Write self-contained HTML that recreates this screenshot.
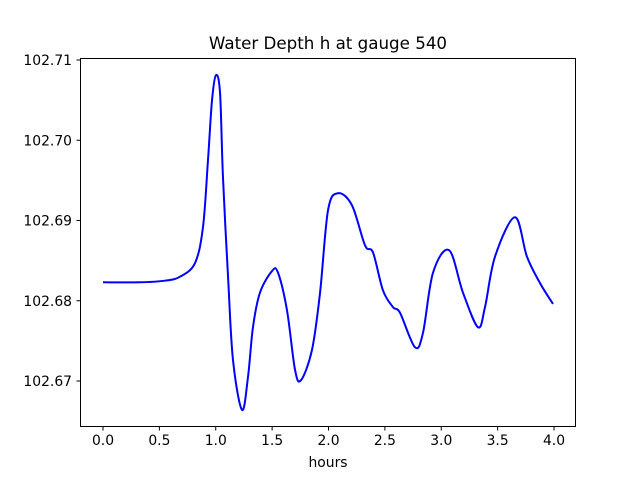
<!DOCTYPE html>
<html><head><meta charset="utf-8"><style>
body{margin:0;background:#fff}
svg text{font-family:"DejaVu Sans","Liberation Sans",sans-serif;fill:#000}
</style></head><body>
<svg id="chart" width="640" height="480" xmlns="http://www.w3.org/2000/svg">
<rect width="640" height="480" fill="#fff"/>
<text x="328" y="49" font-size="16.7" text-anchor="middle">Water Depth h at gauge 540</text>
<text x="328" y="467" font-size="13.9" text-anchor="middle">hours</text>
<g id="ticks"></g>
<path id="series" fill="none" stroke="#0000ff" stroke-width="2"/>
<rect x="80.5" y="58.5" width="495" height="368" fill="none" stroke="#000" stroke-width="1"/>
</svg>
<script>
const hours=[0,0.33,0.55,0.683,0.816,0.887,0.931,0.967,1.002,1.038,1.064,1.109,1.153,1.233,1.286,1.330,1.392,1.499,1.552,1.632,1.703,1.756,1.854,1.925,1.996,2.084,2.208,2.324,2.395,2.483,2.572,2.634,2.767,2.838,2.927,3.069,3.193,3.326,3.388,3.477,3.654,3.760,3.876,3.991];
const depth=[102.6823,102.6823,102.6825,102.6830,102.6847,102.6892,102.6975,102.7050,102.7081,102.7059,102.6954,102.6830,102.6726,102.6664,102.6705,102.6767,102.6810,102.6837,102.6835,102.6788,102.6714,102.6701,102.6739,102.6810,102.6913,102.6934,102.6919,102.6869,102.6860,102.6813,102.6792,102.6785,102.6742,102.6760,102.6835,102.6863,102.6810,102.6767,102.6792,102.6855,102.6904,102.6855,102.6822,102.6796];
const xTicks=[0,0.5,1,1.5,2,2.5,3,3.5,4];
const xTickLabels=["0.0","0.5","1.0","1.5","2.0","2.5","3.0","3.5","4.0"];
const yTicks=[102.67,102.68,102.69,102.70,102.71];
const yTickLabels=["102.67","102.68","102.69","102.70","102.71"];
const X=h=>103+h*112.75;
const Y=v=>60+(102.71-v)*8025;
const NS="http://www.w3.org/2000/svg";
const g=document.getElementById('ticks');
function mk(tag,attrs){const e=document.createElementNS(NS,tag);for(const k in attrs)e.setAttribute(k,attrs[k]);return e;}
xTicks.forEach((t,i)=>{
  const x=X(t);
  const l=mk('line',{x1:x,x2:x,y1:427,y2:430.5,stroke:'#000'});
  
  
  g.appendChild(l);
  const tx=mk('text',{x:x,y:445,'font-size':13.9,'text-anchor':'middle'});
  
  
  tx.textContent=xTickLabels[i];g.appendChild(tx);
});
yTicks.forEach((t,i)=>{
  const y=Y(t);
  const l=mk('line',{x1:76.5,x2:80,y1:y,y2:y,stroke:'#000'});
  
  
  g.appendChild(l);
  const tx=mk('text',{x:72,y:y+5,'font-size':13.9,'text-anchor':'end'});
  
  
  tx.textContent=yTickLabels[i];g.appendChild(tx);
});
const pts=hours.map((h,i)=>[X(h),Y(depth[i])]);
let d='M'+pts[0][0]+','+pts[0][1];
for(let i=0;i<pts.length-1;i++){
  const p0=pts[Math.max(0,i-1)],p1=pts[i],p2=pts[i+1],p3=pts[Math.min(pts.length-1,i+2)];
  const c1=[p1[0]+(p2[0]-p0[0])/6,p1[1]+(p2[1]-p0[1])/6];
  const c2=[p2[0]-(p3[0]-p1[0])/6,p2[1]-(p3[1]-p1[1])/6];
  d+=' C'+c1+' '+c2+' '+p2;
}
document.getElementById('series').setAttribute('d',d);
</script>
</body></html>
